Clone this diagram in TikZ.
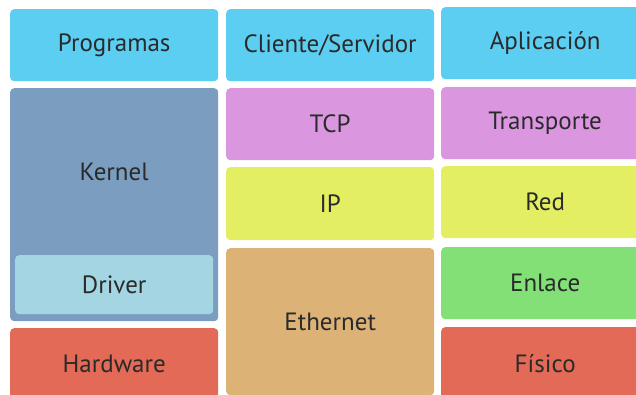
\documentclass[tikz,border=0pt]{standalone}
\usepackage{fontspec}
\setmainfont{PT Sans}
\usetikzlibrary{calc}

\definecolor{appblue}{HTML}{5BCEF2}
\definecolor{kernelblue}{HTML}{7A9DC0}
\definecolor{driverblue}{HTML}{A3D5E2}
\definecolor{tcppink}{HTML}{DA97E0}
\definecolor{ipyellow}{HTML}{E4EE62}
\definecolor{ethorange}{HTML}{DDB276}
\definecolor{linkgreen}{HTML}{82E077}
\definecolor{hwred}{HTML}{E36A56}
\definecolor{textgray}{HTML}{2A2A2A}

\begin{document}
\begin{tikzpicture}[x=1pt, y=-1pt, every node/.style={font=\fontsize{25}{28}\selectfont, text=textgray}]
  % Define styles
  \tikzstyle{layer} = [rectangle, rounded corners=4pt, anchor=north west, inner sep=0pt, minimum width=208pt, minimum height=72pt, text centered]

  \useasboundingbox (0,0) rectangle (636,395);

  % Left column
  \node[layer, fill=appblue] (prog) at (10,9) {Programas};
  \node[layer, fill=kernelblue, minimum height=233pt] (kernel) at (10,88) {};
  \node[layer, fill=driverblue, minimum width=198pt, minimum height=59pt] (driver) at (15,255) {Driver};
  \node at ($(kernel.north)!0.5!(driver.north)$) (kerneltxt) {Kernel};
  \node[layer, fill=hwred] (hw) at (10,328) {Hardware};

  % Middle column
  \node[layer, fill=appblue] (cliente) at (226,9) {Cliente/Servidor};
  \node[layer, fill=tcppink] (tcp) at (226,88) {TCP};
  \node[layer, fill=ipyellow, minimum height=73pt] (ip) at (226,167) {IP};
  \node[layer, fill=ethorange, minimum height=147pt] (eth) at (226,248) {Ethernet};

  % Right column
  \node[layer, fill=appblue] (apl) at (441,7) {Aplicación};
  \node[layer, fill=tcppink] (trans) at (441,87) {Transporte};
  \node[layer, fill=ipyellow] (red) at (441,166) {Red};
  \node[layer, fill=linkgreen] (enlace) at (441,247) {Enlace};
  \node[layer, fill=hwred] (fisico) at (441,327) {Físico};
\end{tikzpicture}
\end{document}
